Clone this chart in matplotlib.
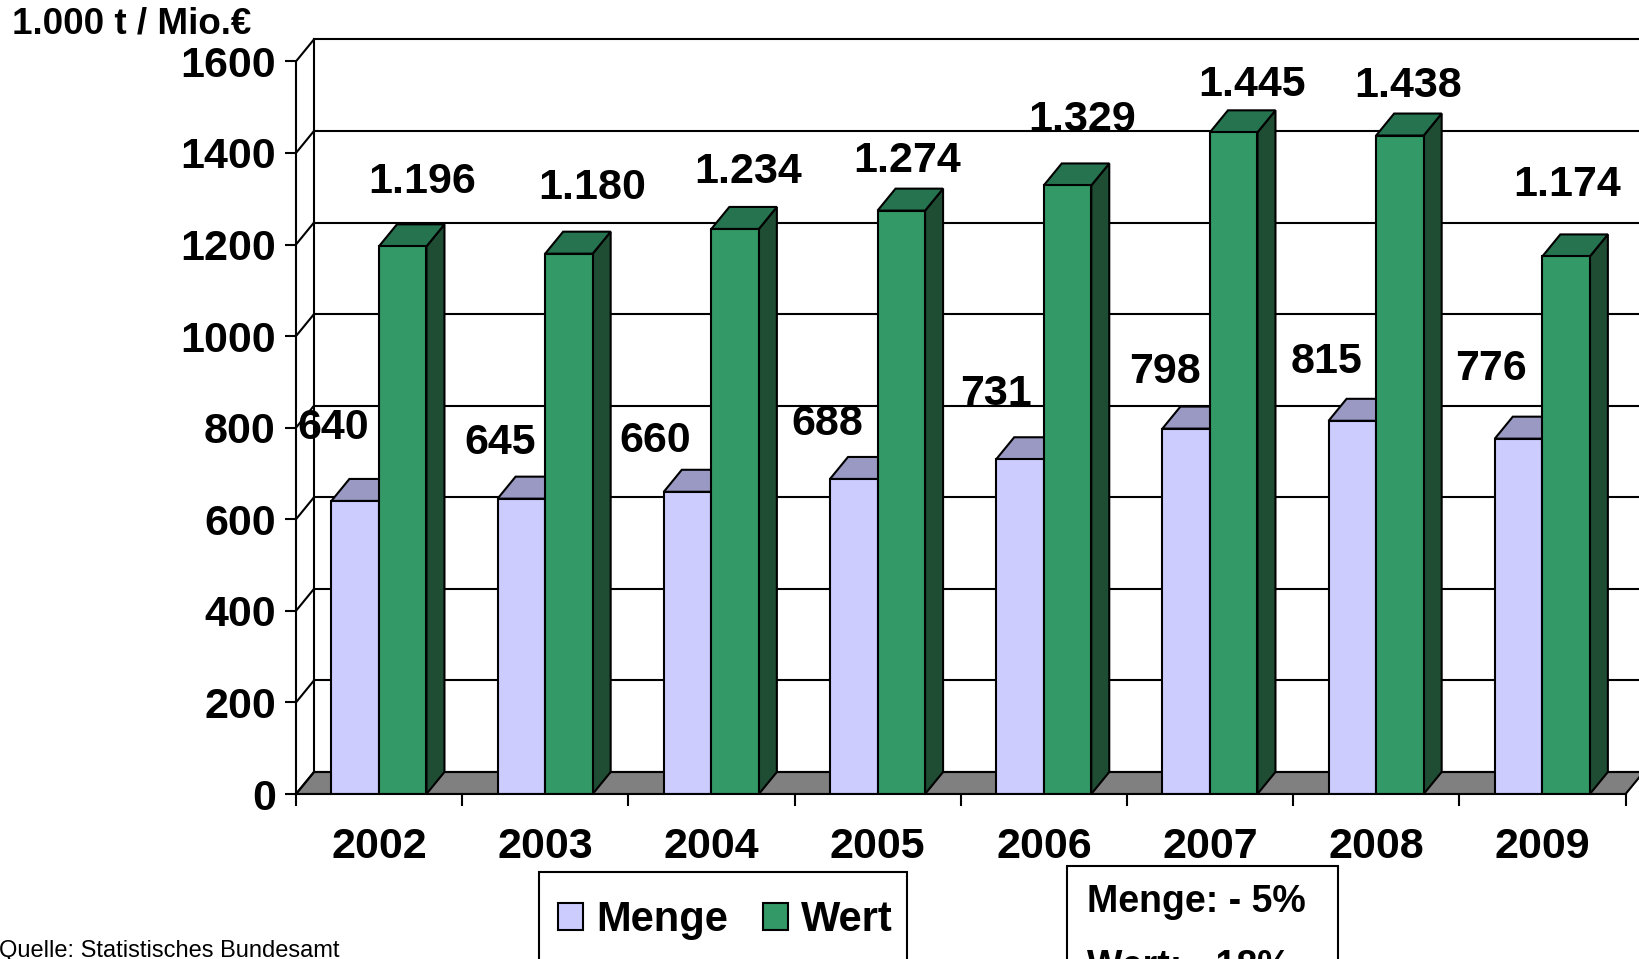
import matplotlib.pyplot as plt
from matplotlib.patches import Polygon, Rectangle, Patch

plt.rcParams['font.family'] = ['Liberation Sans', 'DejaVu Sans']

# Einfuhr: Menge (1.000 t) und Wert (Mio. €)
jahre = ['2002', '2003', '2004', '2005', '2006', '2007', '2008', '2009']
menge = [640, 645, 660, 688, 731, 798, 815, 776]
wert = [1196, 1180, 1234, 1274, 1329, 1445, 1438, 1174]
menge_txt = ['640', '645', '660', '688', '731', '798', '815', '776']
wert_txt = ['1.196', '1.180', '1.234', '1.274', '1.329', '1.445', '1.438', '1.174']

# Lage der Beschriftungen: waagerecht im Kategoriefeld, senkrecht über der Säule
menge_lx = [0.226, 0.226, 0.164, 0.195, 0.214, 0.226, 0.201, 0.189]
wert_lx = [0.761, 0.780, 0.723, 0.679, 0.730, 0.755, 0.692, 0.648]
menge_lift = [136, 97, 86, 95, 118, 99, 105, 128]
wert_lift = [116, 119, 101, 84, 120, 80, 84, 131]

W, H = 1639, 959
fig = plt.figure(figsize=(W / 100, H / 100), dpi=100)

x0px, y0px = 296, 794
cat_px = 166.2
unit_px = 0.4579
ax = fig.add_axes([x0px / W, (H - y0px) / H, (W - x0px) / W, y0px / H])
ax.set_xlim(0, (W - x0px) / cat_px)
ax.set_ylim(0, y0px / unit_px)

n = len(jahre)
dx = 18 / cat_px        # Tiefe nach rechts
dy = 22 / unit_px       # Tiefe nach oben
lw = 1.5

# Boden
ax.add_patch(Polygon([(0, 0), (n, 0), (n + dx, dy), (dx, dy)], closed=True,
                     fc='#808080', ec='black', lw=lw, zorder=1))
# Rückwand und Seitenwand mit Gitterlinien
ax.plot([dx, dx], [dy, 1600 + dy], color='black', lw=lw, zorder=1)
for v in range(0, 1601, 200):
    ax.plot([dx, n + dx + 1], [v + dy, v + dy], color='black', lw=lw, zorder=1)
    ax.plot([0, dx], [v, v + dy], color='black', lw=lw, zorder=1)

bw = 0.286
off_m = 0.213
c_m_front, c_m_top = '#CCCCFF', '#9999C4'
c_w_front, c_w_top, c_w_side = '#339966', '#267350', '#1E4D34'


def saeule(x, h, front, top, side, z):
    ax.add_patch(Polygon([(x + bw, 0), (x + bw + dx, dy), (x + bw + dx, h + dy), (x + bw, h)],
                         closed=True, fc=side, ec='black', lw=lw, zorder=z))
    ax.add_patch(Polygon([(x, h), (x + bw, h), (x + bw + dx, h + dy), (x + dx, h + dy)],
                         closed=True, fc=top, ec='black', lw=lw, zorder=z))
    ax.bar(x, h, width=bw, align='edge', color=front, edgecolor='black', lw=lw, zorder=z + 0.5)


for i in range(n):
    xm = i + off_m
    xw = xm + bw
    saeule(xm, menge[i], c_m_front, c_m_top, c_m_top, 3 + 2 * i)
    saeule(xw, wert[i], c_w_front, c_w_top, c_w_side, 4 + 2 * i)
    ax.text(i + menge_lx[i], menge[i] + menge_lift[i], menge_txt[i], ha='center',
            va='baseline', fontsize=31, fontweight='bold', zorder=30)
    ax.text(i + wert_lx[i], wert[i] + wert_lift[i], wert_txt[i], ha='center',
            va='baseline', fontsize=31, fontweight='bold', zorder=30)

# Achsen
for s in ['top', 'right']:
    ax.spines[s].set_visible(False)
ax.spines['left'].set_bounds(0, 1600)
ax.spines['bottom'].set_bounds(0, n)
ax.spines['left'].set_linewidth(lw)
ax.spines['bottom'].set_linewidth(lw)
ax.spines['left'].set_zorder(40)
ax.spines['bottom'].set_zorder(40)
ax.patch.set_visible(False)

ax.set_yticks(range(0, 1601, 200))
ax.tick_params(axis='y', length=8, width=lw, pad=6.5, labelsize=31)
for t in ax.get_yticklabels():
    t.set_fontweight('bold')

ax.set_xticks(range(n + 1))
ax.set_xticklabels([])
ax.set_xticks([i + 0.5 for i in range(n)], minor=True)
ax.set_xticklabels(jahre, minor=True, fontsize=31, fontweight='bold')
ax.tick_params(axis='x', which='major', length=8.6, width=lw)
ax.tick_params(axis='x', which='minor', length=0, pad=24)

# Einheit
fig.text(12 / W, 1 - 33 / H, '1.000 t / Mio.€', fontsize=26.5, fontweight='bold',
         ha='left', va='baseline')
# Quelle
fig.text(-1 / W, 1 - 957 / H, 'Quelle: Statistisches Bundesamt', fontsize=17,
         ha='left', va='baseline')

# Legende (Rahmen reicht über den unteren Rand hinaus)
fig.add_artist(Rectangle((539 / W, -0.05), (907 - 539) / W, 0.05 + 1 - 872 / H,
                         transform=fig.transFigure, fill=False, ec='black', lw=1.5))
handles = [Patch(fc=c_m_front, ec='black', lw=1.5, label='Menge'),
           Patch(fc=c_w_front, ec='black', lw=1.5, label='Wert')]
fig.legend(handles=handles, loc='upper left', bbox_to_anchor=(558 / W, 1 - 900 / H),
           ncol=2, prop={'size': 30, 'weight': 'bold'}, frameon=False,
           borderpad=0, handlelength=0.6, handleheight=0.6, handletextpad=0.31,
           columnspacing=0.84, borderaxespad=0)

# Veränderung 2009 gegenüber 2008
fig.add_artist(Rectangle((1067 / W, -0.05), (1338 - 1067) / W, 0.05 + 1 - 866 / H,
                         transform=fig.transFigure, fill=False, ec='black', lw=1.5))
fig.text(1087 / W, 1 - 912 / H, 'Menge: - 5%', fontsize=27, fontweight='bold', va='baseline')
fig.text(1087 / W, 1 - 977 / H, 'Wert: - 18%', fontsize=27, fontweight='bold', va='baseline')

fig.savefig('out.png', dpi=100)
